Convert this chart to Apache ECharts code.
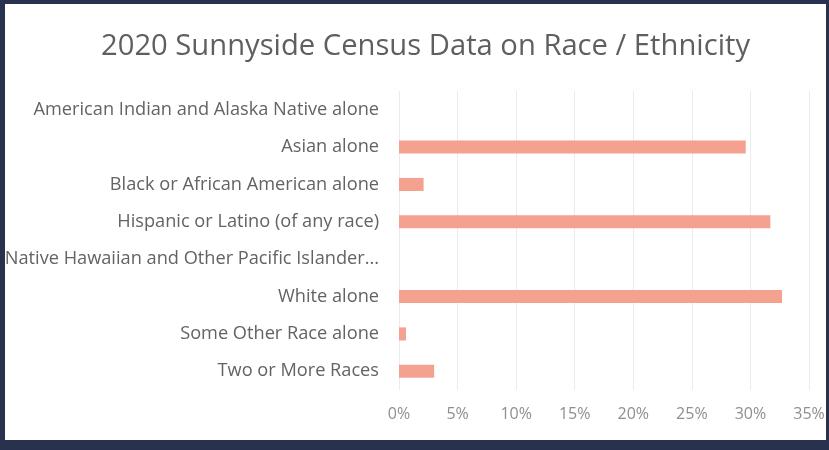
<!DOCTYPE html>
<html><head><meta charset="utf-8">
<script src="https://cdn.jsdelivr.net/npm/echarts@6/dist/echarts.min.js"></script>
<style>
html,body{margin:0;padding:0;width:829px;height:450px;background:#28324f;overflow:hidden;}
#chart{position:absolute;left:5px;top:4px;width:821px;height:436px;background:#ffffff;}
</style></head>
<body><div id="chart"></div>
<script>
const title = '2020 Sunnyside Census Data on Race / Ethnicity';
const categories = [
  'American Indian and Alaska Native alone',
  'Asian alone',
  'Black or African American alone',
  'Hispanic or Latino (of any race)',
  'Native Hawaiian and Other Pacific Islander alone',
  'White alone',
  'Some Other Race alone',
  'Two or More Races'
];
const shares = [0.0, 29.6, 2.1, 31.7, 0.0, 32.7, 0.6, 3.0];
const xTicks = [0, 5, 10, 15, 20, 25, 30, 35];

const chart = echarts.init(document.getElementById('chart'), null, {renderer:'canvas'});
chart.setOption({
  backgroundColor: '#ffffff',
  animation: false,
  title: {
    text: title, left: 91, top: 23,
    textStyle: {fontFamily: 'Open Sans', fontSize: 29.2, fontWeight: 'normal', color: '#5f5f5f'}
  },
  grid: {left: 394, right: 17, top: 87, bottom: 50, containLabel: false, outerBoundsMode: 'none'},
  xAxis: {
    type: 'value', min: xTicks[0], max: xTicks[xTicks.length-1], interval: 5,
    axisLine: {show: false}, axisTick: {show: false},
    splitLine: {show: true, lineStyle: {color: '#ebebeb', width: 1}},
    axisLabel: {formatter: v => v + '%', color: '#8f8f8f', fontFamily: 'Open Sans', fontSize: 16, margin: 16}
  },
  yAxis: {
    type: 'category', data: categories, inverse: true,
    axisLine: {show: false}, axisTick: {show: false},
    axisLabel: {color: '#636363', fontFamily: 'Open Sans', fontSize: 18.2, margin: 20,
      width: 376, overflow: 'truncate', ellipsis: '...'}
  },
  series: [{
    type: 'bar', data: shares, barWidth: '35%',
    itemStyle: {color: '#f4a28f'}
  }]
});
</script></body></html>
